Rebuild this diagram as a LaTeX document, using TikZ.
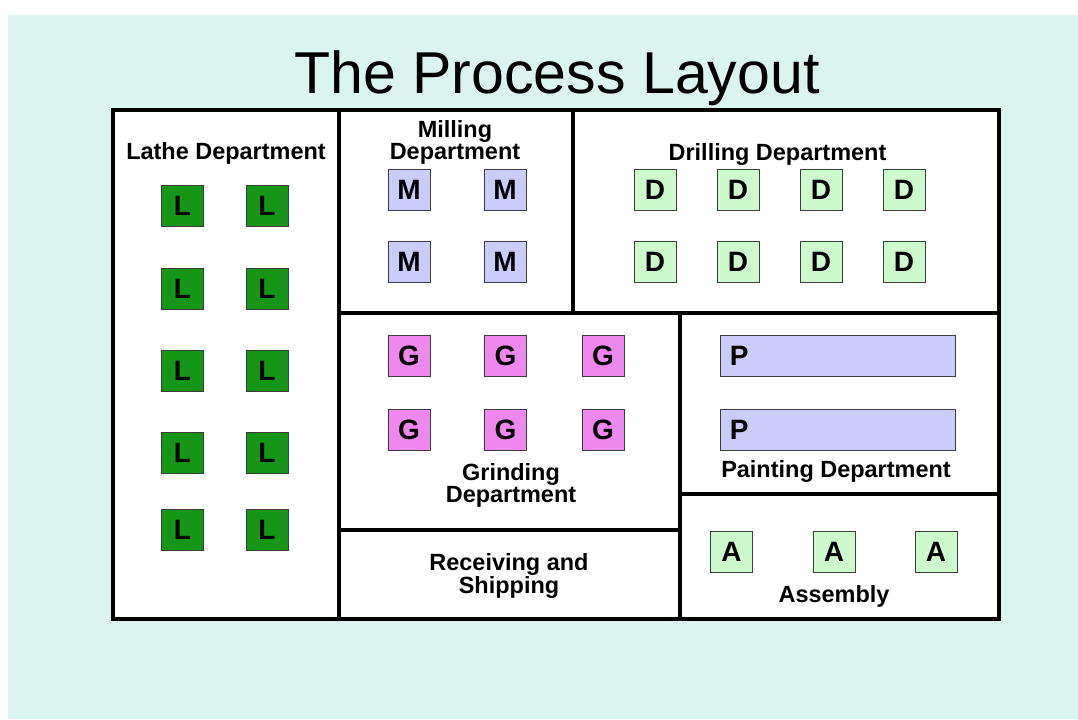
\documentclass[tikz,border=0pt]{standalone}
\usepackage{fontspec}
\setmainfont{Liberation Sans}
\definecolor{bgcyan}{RGB}{220,244,240}
\definecolor{lgreen}{RGB}{22,150,22}
\definecolor{lav}{RGB}{204,204,250}
\definecolor{pale}{RGB}{204,250,204}
\definecolor{pink}{RGB}{238,136,238}
\definecolor{mline}{RGB}{60,60,60}
\tikzset{
  wall/.style={line width=3pt, line cap=rect},
  mach/.style={draw=mline, line width=0.7pt, minimum width=31.5pt, minimum height=30.75pt, inner sep=0pt,
    font=\bfseries\fontsize{21}{24}\selectfont},
  lbl/.style={anchor=base, inner sep=0pt, font=\bfseries\fontsize{17.6}{20}\selectfont},
}
\begin{document}
\begin{tikzpicture}[x=0.75pt, y=-0.75pt]
\useasboundingbox (0,0) rectangle (1078,719);
\fill[white] (0,0) rectangle (1078,719);
\fill[bgcyan] (8,15) rectangle (1078,719);
% title
\node[anchor=base, inner sep=0pt, font=\fontsize{44.3}{50}\selectfont] (title) at (557,93) {The Process Layout};
% floor
\fill[white] (113,110) rectangle (999,619);
\draw[wall] (113,110) rectangle (999,619);
\draw[wall] (339,110) -- (339,619);
\draw[wall] (339,313) -- (999,313);
\draw[wall] (573,110) -- (573,313);
\draw[wall] (680,313) -- (680,619);
\draw[wall] (339,530) -- (680,530);
\draw[wall] (680,494) -- (999,494);
% labels
\node[lbl] (lathe) at (226,159.5) {Lathe Department};
\node[lbl] (mill1) at (455,137) {Milling};
\node[lbl] (mill2) at (455,159) {Department};
\node[lbl] (drill) at (777.5,160) {Drilling Department};
\node[lbl] (grind1) at (511,480) {Grinding};
\node[lbl] (grind2) at (511,502.5) {Department};
\node[lbl] (paint) at (836,477) {Painting Department};
\node[lbl] (recv1) at (509,570) {Receiving and};
\node[lbl] (recv2) at (509,593) {Shipping};
\node[lbl] (assy) at (834,602) {Assembly};
% lathes
\foreach \y [count=\i] in {206,288.5,370.5,452.5,529.5}{
  \node[mach, fill=lgreen] (La\i) at (182.5,\y) {L};
  \node[mach, fill=lgreen] (Lb\i) at (267,\y) {L};
}
% milling
\foreach \y [count=\i] in {189.5,261.5}{
  \node[mach, fill=lav] (Ma\i) at (409,\y) {M};
  \node[mach, fill=lav] (Mb\i) at (505,\y) {M};
}
% drilling
\foreach \y [count=\i] in {189.5,261.5}{
  \foreach \x [count=\j] in {655,738,821,904}{
    \node[mach, fill=pale] (D\i\j) at (\x,\y) {D};
  }
}
% grinding
\foreach \y [count=\i] in {356,430}{
  \foreach \x [count=\j] in {409,505.5,603}{
    \node[mach, fill=pink] (G\i\j) at (\x,\y) {G};
  }
}
% painting
\foreach \y [count=\i] in {356,430}{
  \node[mach, fill=lav, minimum width=176.25pt] (P\i) at (837.5,\y) {};
  \node[anchor=west, inner sep=0pt, font=\bfseries\fontsize{21}{24}\selectfont] (Pt\i) at ([xshift=7.5pt]P\i.west) {P};
}
% assembly
\foreach \x [count=\j] in {731.5,834,936}{
  \node[mach, fill=pale] (A\j) at (\x,552) {A};
}
\end{tikzpicture}
\end{document}
